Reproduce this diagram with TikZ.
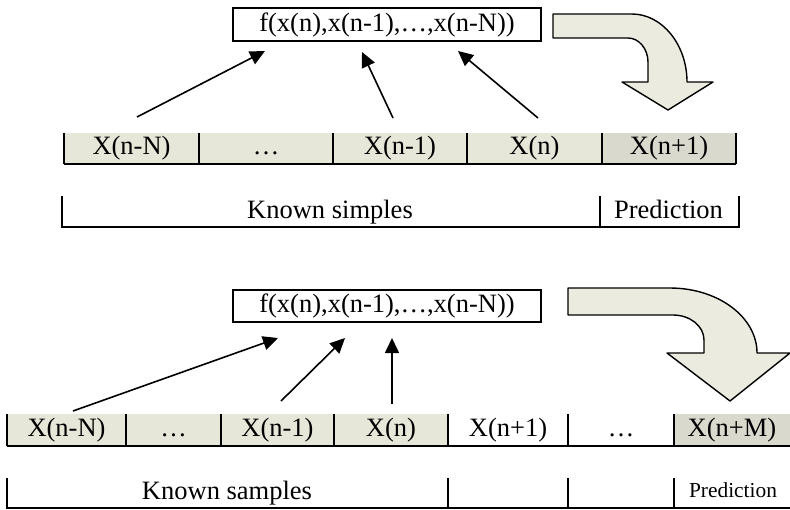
\documentclass[tikz,border=0pt]{standalone}
\usepackage{fontspec}
\setmainfont{Liberation Serif}
\usetikzlibrary{arrows.meta}
\definecolor{cellbeige}{HTML}{E7E7D9}
\definecolor{cellgray}{HTML}{D9D9CD}
\definecolor{bendfill}{HTML}{EBEBDF}

\begin{document}
\begin{tikzpicture}[x=0.5pt,y=-0.5pt,
    lbl/.style={font=\fontsize{13.25}{16}\selectfont, inner sep=0pt},
    celltext/.style={lbl, text height=9pt, text depth=2.6pt},
    tiny/.style={font=\fontsize{10.7}{13}\selectfont, inner sep=0pt},
    rule/.style={line width=1pt},
    feed/.style={line width=0.8pt,-{Triangle[length=7.5pt,width=7pt]}},
    bendarrow/.style={fill=bendfill,draw=black,line width=0.7pt,line join=round}]
  \useasboundingbox (0,0) rectangle (790,509);

  % ---- one step ahead ----
  \node[lbl,draw,rule,minimum width=154pt,minimum height=16.5pt] (f1) at (387,24.5) {f(x(n),x(n-1),…,x(n-N))};

  % sample cells
  \foreach \i/\a/\b/\t/\c in {1/64/199/{X(n-N)}/cellbeige, 2/199/333/{…}/cellbeige,
      3/333/467/{X(n-1)}/cellbeige, 4/467/602/{X(n)}/cellbeige, 5/602/736/{X(n+1)}/cellgray}{
    \fill[\c] (\a,133) rectangle (\b,164);
    \node[celltext] (p\i) at ({(\a+\b)/2},148.5) {\t};
    \draw[rule] (\a,133) -- (\a,164);
  }
  \draw[rule] (736,133) -- (736,164);
  \draw[rule] (64,164) -- (736,164);

  % inputs of f
  \coordinate (s1) at (137,117);  \coordinate (e1) at (265,51);
  \coordinate (s2) at (393,118);  \coordinate (e2) at (362,52);
  \coordinate (s3) at (538,118);  \coordinate (e3) at (458,51);
  \draw[feed] (s1) -- (e1);
  \draw[feed] (s2) -- (e2);
  \draw[feed] (s3) -- (e3);

  % bent arrow
  \draw[bendarrow] (553,14) -- (632,14) .. controls (662,14) and (687,44.5) .. (687,82)
    -- (713,82) -- (668,110) -- (622,82) -- (648,82) -- (648,62)
    .. controls (648,49) and (639,38) .. (628,38) -- (553,38) -- cycle;

  % bracket
  \draw[rule] (62,196) -- (62,227) -- (739,227) -- (739,196);
  \draw[rule] (600,196) -- (600,227);
  \node[celltext] (known1) at (330,212) {Known simples};
  \node[celltext] (pred1) at (668.5,212) {Prediction};

  % ---- M steps ahead ----
  \node[lbl,draw,rule,minimum width=154pt,minimum height=16pt] (f2) at (387,306) {f(x(n),x(n-1),…,x(n-N))};

  \foreach \i/\a/\b/\t/\c in {1/7/126/{X(n-N)}/cellbeige, 2/126/221/{…}/cellbeige,
      3/221/334/{X(n-1)}/cellbeige, 4/334/448/{X(n)}/cellbeige, 5/448/568/{X(n+1)}/white,
      6/568/674/{…}/white, 7/674/790/{X(n+M)}/cellgray}{
    \fill[\c] (\a,414) rectangle (\b,446);
    \node[celltext] (q\i) at ({(\a+\b)/2},430) {\t};
    \draw[rule] (\a,414) -- (\a,446);
  }
  \draw[rule] (7,446) -- (790,446);

  \coordinate (s4) at (73,411);   \coordinate (e4) at (278,338);
  \coordinate (s5) at (281,401);  \coordinate (e5) at (345,338);
  \coordinate (s6) at (392,404);  \coordinate (e6) at (392,338);
  \draw[feed] (s4) -- (e4);
  \draw[feed] (s5) -- (e5);
  \draw[feed] (s6) -- (e6);

  \draw[bendarrow] (568,288) -- (670,288) .. controls (718,288) and (757,317) .. (757,353)
    -- (790,353) -- (730,401) -- (667,353) -- (704,353) -- (704,340)
    .. controls (704,326) and (690,315) .. (673,315) -- (568,315) -- cycle;

  \draw[rule] (7,478) -- (7,508) -- (790,508);
  \foreach \x in {448,568,674} \draw[rule] (\x,478) -- (\x,508);
  \node[celltext] (known2) at (227,493) {Known samples};
  \node[tiny] (pred2) at (733,490) {Prediction};
\end{tikzpicture}
\end{document}
